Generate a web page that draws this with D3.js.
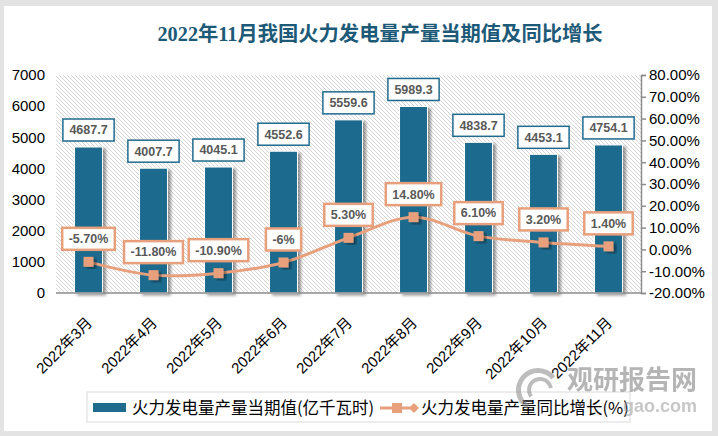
<!DOCTYPE html>
<html><head><meta charset="utf-8">
<script src="https://cdn.jsdelivr.net/npm/d3@7"></script>
<style>
html,body{margin:0;padding:0;background:#e3e3e3;}
svg{display:block;}
</style></head>
<body>
<svg id="chart" width="718" height="436"></svg>
<script>
const categories = ["2022年3月","2022年4月","2022年5月","2022年6月","2022年7月","2022年8月","2022年9月","2022年10月","2022年11月"];
const output = [4687.7, 4007.7, 4045.1, 4552.6, 5559.6, 5989.3, 4838.7, 4453.1, 4754.1];
const growth = [-5.7, -11.8, -10.9, -6, 5.3, 14.8, 6.1, 3.2, 1.4];
const growthLabels = ["-5.70%","-11.80%","-10.90%","-6%","5.30%","14.80%","6.10%","3.20%","1.40%"];
const leftTicks = [0,1000,2000,3000,4000,5000,6000,7000];
const rightTicks = [-20,-10,0,10,20,30,40,50,60,70,80];
const title = "2022年11月我国火力发电量产量当期值及同比增长";
const seriesNames = ["火力发电量产量当期值(亿千瓦时)","火力发电量产量同比增长(%)"];

const barColor = "#1f6b8e", lineColor = "#e8a07c";
const svg = d3.select("#chart");
const defs = svg.append("defs");
const pat = defs.append("pattern").attr("id","hatch").attr("patternUnits","userSpaceOnUse")
  .attr("width",4).attr("height",4);
pat.append("rect").attr("width",4).attr("height",4).attr("fill","#fff");
pat.append("path").attr("d","M-1,-1 L5,5 M-1,3 L1,5 M3,-1 L5,1").attr("stroke","#d6d6d6").attr("stroke-width",1);
const sh = defs.append("filter").attr("id","shadow").attr("x","-30%").attr("y","-10%").attr("width","160%").attr("height","130%");
sh.append("feDropShadow").attr("dx",3).attr("dy",2).attr("stdDeviation",1.8).attr("flood-color","#000").attr("flood-opacity",0.4);

// panel
svg.append("rect").attr("x",4).attr("y",6).attr("width",708).attr("height",425).attr("fill","#fff");

const X0 = 56, X1 = 641, YT = 75, YB = 293;
const x = d3.scaleBand().domain(categories).range([X0,X1]).paddingInner(0.57).paddingOuter(0.285);
const yL = d3.scaleLinear().domain([0,7000]).range([YB,YT]);
const yR = d3.scaleLinear().domain([-20,80]).range([YB,YT]);

svg.append("rect").attr("x",X0).attr("y",YT).attr("width",X1-X0).attr("height",YB-YT).attr("fill","url(#hatch)");

// title
svg.append("text").attr("x",380).attr("y",41).attr("text-anchor","middle")
  .attr("font-family","'Liberation Serif','Noto Sans CJK SC',serif").attr("font-size",20.3)
  .attr("fill","#1d5a78").attr("font-weight","bold").text(title);

// left axis
const la = svg.append("g").attr("transform",`translate(${X0},0)`)
  .call(d3.axisLeft(yL).tickValues(leftTicks).tickSize(0).tickPadding(11).tickFormat(d3.format("d")));
la.select(".domain").remove();
la.selectAll("text").attr("font-family","'Liberation Sans',Arial,sans-serif").attr("font-size",15).attr("fill","#000");

// right axis
const ra = svg.append("g").attr("transform",`translate(${X1},0)`)
  .call(d3.axisRight(yR).tickValues(rightTicks).tickSize(5).tickPadding(3).tickFormat(d=>d.toFixed(2)+"%"));
ra.select(".domain").attr("stroke","#8c8c8c").attr("stroke-width",1.5);
ra.selectAll("line").attr("stroke","#8c8c8c").attr("stroke-width",1.5);
ra.selectAll("text").attr("font-family","'Liberation Sans',Arial,sans-serif").attr("font-size",15).attr("fill","#000");

// bars
svg.append("g").selectAll("rect").data(output).join("rect")
  .attr("x",(d,i)=>x(categories[i])).attr("width",x.bandwidth())
  .attr("y",d=>yL(d)).attr("height",d=>YB-yL(d))
  .attr("fill",barColor).attr("stroke","#fff").attr("stroke-width",1).attr("filter","url(#shadow)");

// bottom axis
const xa = svg.append("g").attr("transform",`translate(0,${YB})`)
  .call(d3.axisBottom(x).tickSize(0).tickPadding(0));
xa.select(".domain").attr("stroke","#8c8c8c").attr("stroke-width",1.5).attr("d",`M${X0},0H${X1}`);
xa.selectAll("text").attr("font-family","'Liberation Sans','Noto Sans CJK SC',sans-serif").attr("font-size",15)
  .attr("fill","#000").attr("text-anchor","end").attr("dy","0.35em")
  .attr("transform","translate(1,27) rotate(-45)");

// line
const cx = i => x(categories[i]) + x.bandwidth()/2;
const line = d3.line().x((d,i)=>cx(i)).y(d=>yR(d)).curve(d3.curveCatmullRom.alpha(0.5));
svg.append("path").datum(growth).attr("d",line).attr("fill","none").attr("stroke",lineColor).attr("stroke-width",3);
svg.append("g").selectAll("rect").data(growth).join("rect")
  .attr("x",(d,i)=>cx(i)-5).attr("y",d=>yR(d)-5).attr("width",10).attr("height",10)
  .attr("fill",lineColor).attr("filter","url(#shadow)");

// data labels
function boxLabel(g, tx, ty, txt, stroke, sw) {
  const grp = g.append("g");
  const r = grp.append("rect");
  const t = grp.append("text").attr("x",tx).attr("y",ty).attr("dy","0.35em").attr("text-anchor","middle")
    .attr("font-family","'Liberation Sans',Arial,sans-serif").attr("font-size",12.5).attr("font-weight","bold")
    .attr("fill","#595959").text(txt);
  const w = t.node().getComputedTextLength() + 13;
  r.attr("x",tx-w/2).attr("y",ty-11).attr("width",w).attr("height",22)
   .attr("fill","#fff").attr("stroke",stroke).attr("stroke-width",sw);
}
const lg = svg.append("g");
output.forEach((d,i)=>boxLabel(lg, cx(i), yL(d)-17, d3.format(".1f")(d), barColor, 1.5));
growth.forEach((d,i)=>boxLabel(lg, cx(i), yR(d)-23, growthLabels[i], lineColor, 2.5));

// legend
const leg = svg.append("g");
leg.append("rect").attr("x",87).attr("y",392).attr("width",543).attr("height",30).attr("fill","#fff").attr("stroke","#d9d9d9").attr("stroke-width",1);
leg.append("rect").attr("x",93).attr("y",403).attr("width",33).attr("height",9).attr("fill",barColor);
leg.append("text").attr("x",132).attr("y",408).attr("dy","0.35em").attr("font-family","'Noto Sans CJK SC',sans-serif").attr("font-size",16.5).attr("fill","#000").text(seriesNames[0]);
leg.append("line").attr("x1",380).attr("x2",414).attr("y1",408).attr("y2",408).attr("stroke",lineColor).attr("stroke-width",3);
leg.append("rect").attr("x",392).attr("y",403).attr("width",10).attr("height",10).attr("fill",lineColor);
leg.append("path").attr("d","M414,403 L419,408 L414,413 L409,408Z").attr("fill",lineColor);
leg.append("text").attr("x",421).attr("y",408).attr("dy","0.35em").attr("font-family","'Noto Sans CJK SC',sans-serif").attr("font-size",16.5).attr("fill","#000").text(seriesNames[1]);

// watermark
const wm = svg.append("g").attr("opacity",0.55);
wm.append("path").attr("d",d3.arc()({innerRadius:17,outerRadius:22,startAngle:-2.6,endAngle:0.9})).attr("transform","translate(538,390)").attr("fill","#888");
wm.append("path").attr("d",d3.arc()({innerRadius:9,outerRadius:13,startAngle:-2.2,endAngle:1.4})).attr("transform","translate(540,390)").attr("fill","#888");
wm.append("text").attr("x",697).attr("y",389).attr("text-anchor","end").attr("font-family","'Noto Sans CJK SC',sans-serif").attr("font-weight","bold").attr("font-size",26).attr("fill","#7a7a7a").text("观研报告网");
wm.append("text").attr("x",697).attr("y",412).attr("text-anchor","end").attr("font-family","'Liberation Sans',sans-serif").attr("font-weight","bold").attr("font-size",18).attr("fill","#9a9a9a").text("gao.com");
</script>
</body></html>
